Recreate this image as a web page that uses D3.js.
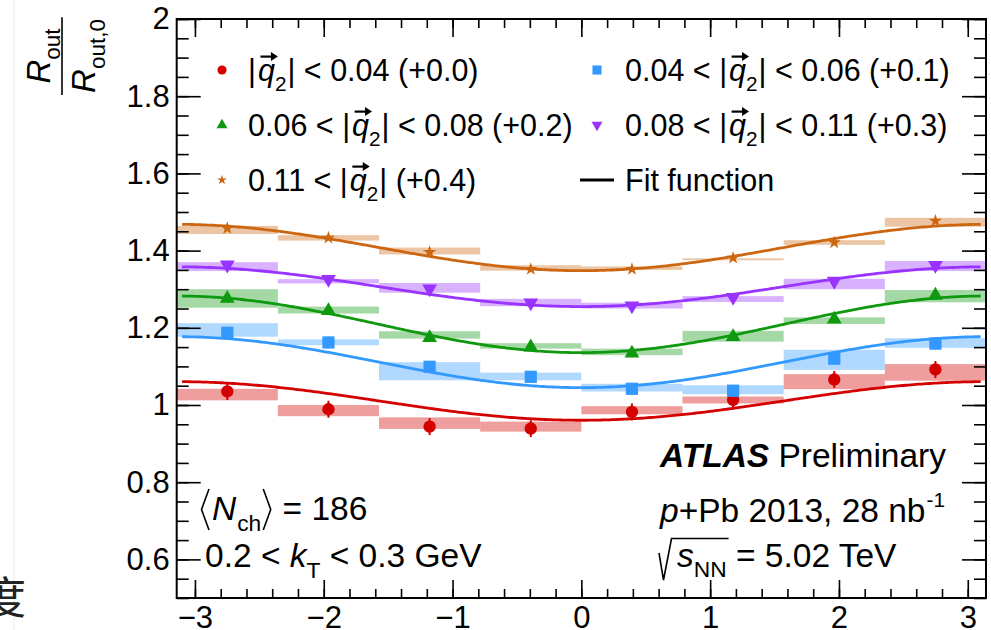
<!DOCTYPE html>
<html>
<head>
<meta charset="utf-8">
<script src="https://cdn.jsdelivr.net/npm/d3@7"></script>
<style>
  html, body { margin: 0; padding: 0; background: #fff; }
  svg { display: block; font-family: "Liberation Sans", Arial, Helvetica, sans-serif; }
  text { white-space: pre; }
</style>
</head>
<body>
<svg id="chart" width="991" height="630"></svg>
<script>
// ---- data -------------------------------------------------------------
// 8 bins in phi over [-pi, pi]
const nBins = 8;
const seriesNames = ["q0", "q1", "q2", "q3", "q4"];
const seriesOffsets = [0.0, 0.1, 0.2, 0.3, 0.4];
const seriesColors = ["#d40000", "#3399ff", "#0f990f", "#9933ff", "#cc6611"];
const seriesLabels = [
  { lo: null, hi: "0.04", off: "(+0.0)" },
  { lo: "0.04", hi: "0.06", off: "(+0.1)" },
  { lo: "0.06", hi: "0.08", off: "(+0.2)" },
  { lo: "0.08", hi: "0.11", off: "(+0.3)" },
  { lo: "0.11", hi: null, off: "(+0.4)" }
];

// R_out / R_out,0 per phi bin (before vertical offset)
const ratioQ0 = [1.035, 0.989, 0.944, 0.939, 0.982, 1.013, 1.066, 1.092];
const ratioQ1 = [1.087, 1.062, 0.999, 0.973, 0.942, 0.937, 1.020, 1.059];
const ratioQ2 = [1.076, 1.044, 0.974, 0.950, 0.934, 0.977, 1.022, 1.084];
const ratioQ3 = [1.063, 1.026, 1.001, 0.965, 0.957, 0.979, 1.021, 1.062];
const ratioQ4 = [1.058, 1.033, 0.996, 0.952, 0.952, 0.981, 1.021, 1.077];

// statistical uncertainty per series
const statErr = [0.022, 0.015, 0.010, 0.008, 0.006];

// systematic band edges (before vertical offset)
const sysLoQ0 = [1.012, 0.971, 0.938, 0.931, 0.976, 1.004, 1.041, 1.063];
const sysHiQ0 = [1.042, 1.000, 0.968, 0.957, 0.997, 1.022, 1.080, 1.106];
const sysLoQ1 = [1.077, 1.055, 0.964, 0.964, 0.935, 0.928, 0.991, 1.048];
const sysHiQ1 = [1.112, 1.070, 1.011, 0.984, 0.955, 0.951, 1.043, 1.073];
const sysLoQ2 = [1.052, 1.037, 0.972, 0.946, 0.929, 0.964, 1.010, 1.066];
const sysHiQ2 = [1.100, 1.055, 0.991, 0.960, 0.946, 0.992, 1.027, 1.098];
const sysLoQ3 = [1.047, 1.015, 0.991, 0.956, 0.950, 0.967, 1.000, 1.047];
const sysHiQ3 = [1.070, 1.026, 1.016, 0.975, 0.965, 0.982, 1.027, 1.073];
const sysLoQ4 = [1.043, 1.026, 0.990, 0.948, 0.950, 0.975, 1.015, 1.062];
const sysHiQ4 = [1.064, 1.040, 1.008, 0.962, 0.959, 0.980, 1.027, 1.085];

// fit function  R(phi) = base - amp * cos(phi)
const fitBase = [1.0105, 1.011, 1.009, 1.0065, 1.008];
const fitAmp  = [0.050, 0.066, 0.0734, 0.0515, 0.060];

const xTicks = [-3, -2, -1, 0, 1, 2, 3];
const yTicks = [0.6, 0.8, 1.0, 1.2, 1.4, 1.6, 1.8, 2.0];

const ratios = [ratioQ0, ratioQ1, ratioQ2, ratioQ3, ratioQ4];
const sysLo = [sysLoQ0, sysLoQ1, sysLoQ2, sysLoQ3, sysLoQ4];
const sysHi = [sysHiQ0, sysHiQ1, sysHiQ2, sysHiQ3, sysHiQ4];

// ---- layout -----------------------------------------------------------
const svg = d3.select("#chart");
const frame = { left: 176.7, right: 986, top: 19, bottom: 598 };
const x = d3.scaleLinear().domain([-Math.PI, Math.PI]).range([frame.left, frame.right]);
const y = d3.scaleLinear().domain([0.5, 2.0]).range([frame.bottom, frame.top]);

const binW = 2 * Math.PI / nBins;
const binLo = d3.range(nBins).map(i => -Math.PI + i * binW);
const binCenter = binLo.map(v => v + binW / 2);

// faint page edge and a stray glyph on the left margin
svg.append("line").attr("x1", 14).attr("x2", 14).attr("y1", 0).attr("y2", 630)
  .attr("stroke", "#efefef").attr("stroke-width", 1.5);
svg.append("text").attr("x", -18).attr("y", 614)
  .attr("font-family", "'Noto Sans CJK SC', sans-serif").attr("font-size", 44)
  .attr("fill", "#222").text("度");

// ---- systematic boxes ---------------------------------------------------
const plot = svg.append("g");
seriesNames.forEach((name, s) => {
  plot.append("g").attr("class", "sys-" + name)
    .selectAll("rect").data(d3.range(nBins)).join("rect")
    .attr("x", i => x(binLo[i]))
    .attr("width", i => x(binLo[i] + binW) - x(binLo[i]))
    .attr("y", i => y(sysHi[s][i] + seriesOffsets[s]))
    .attr("height", i => y(sysLo[s][i] + seriesOffsets[s]) - y(sysHi[s][i] + seriesOffsets[s]))
    .attr("fill", seriesColors[s]).attr("fill-opacity", 0.38);
});

// ---- fit curves ---------------------------------------------------------
const phiGrid = d3.range(-3.1, 3.1001, 0.02);
const line = d3.line().x(d => x(d[0])).y(d => y(d[1])).curve(d3.curveLinear);
seriesNames.forEach((name, s) => {
  const pts = phiGrid.map(p => [p, fitBase[s] - fitAmp[s] * Math.cos(p) + seriesOffsets[s]]);
  plot.append("path").datum(pts).attr("d", line)
    .attr("fill", "none").attr("stroke", seriesColors[s]).attr("stroke-width", 2.8);
});

// ---- markers ------------------------------------------------------------
const markerTypes = [
  { type: d3.symbolCircle, size: 120, rot: 0 },
  { type: d3.symbolSquare, size: 150, rot: 0 },
  { type: d3.symbolTriangle, size: 95, rot: 0 },
  { type: d3.symbolTriangle, size: 95, rot: 180 },
  { type: d3.symbolStar, size: 55, rot: 0 }
];
seriesNames.forEach((name, s) => {
  const g = plot.append("g").attr("class", "pts-" + name);
  d3.range(nBins).forEach(i => {
    const v = ratios[s][i] + seriesOffsets[s];
    g.append("line")
      .attr("x1", x(binCenter[i])).attr("x2", x(binCenter[i]))
      .attr("y1", y(v - statErr[s])).attr("y2", y(v + statErr[s]))
      .attr("stroke", seriesColors[s]).attr("stroke-width", 2);
    const m = markerTypes[s];
    g.append("path").attr("d", d3.symbol(m.type, m.size)())
      .attr("transform", `translate(${x(binCenter[i])},${y(v)}) rotate(${m.rot})`)
      .attr("fill", seriesColors[s]);
  });
});

// ---- frame and axes -----------------------------------------------------
const xMinor = d3.range(-3.0, 3.0001, 0.2).map(v => +v.toFixed(1));
const yMinor = d3.range(0.5, 2.0001, 0.05).map(v => +v.toFixed(2));
const tickStyle = g => { g.select(".domain").remove(); g.selectAll("line").attr("stroke", "#000").attr("stroke-width", 1.6); };

// bottom / top
svg.append("g").attr("transform", `translate(0,${frame.bottom})`)
  .call(d3.axisBottom(x).tickValues(xMinor).tickSize(-9).tickFormat("")).call(tickStyle);
svg.append("g").attr("transform", `translate(0,${frame.bottom})`)
  .call(d3.axisBottom(x).tickValues(xTicks).tickSize(-18).tickPadding(8)
    .tickFormat(d => d < 0 ? "\u2212" + Math.abs(d) : String(d)))
  .call(tickStyle)
  .call(g => g.selectAll("text").attr("font-size", 31).attr("fill", "#000")
    .attr("font-family", "'Liberation Sans', Arial, sans-serif").attr("dy", "0.71em"));
svg.append("g").attr("transform", `translate(0,${frame.top})`)
  .call(d3.axisTop(x).tickValues(xMinor).tickSize(-9).tickFormat("")).call(tickStyle);
svg.append("g").attr("transform", `translate(0,${frame.top})`)
  .call(d3.axisTop(x).tickValues(xTicks).tickSize(-18).tickFormat("")).call(tickStyle);

// left / right
svg.append("g").attr("transform", `translate(${frame.left},0)`)
  .call(d3.axisLeft(y).tickValues(yMinor).tickSize(-12).tickFormat("")).call(tickStyle);
svg.append("g").attr("transform", `translate(${frame.left},0)`)
  .call(d3.axisLeft(y).tickValues(yTicks).tickSize(-24).tickPadding(7)
    .tickFormat(d => String(+d.toFixed(1))))
  .call(tickStyle)
  .call(g => g.selectAll("text").attr("font-size", 31).attr("fill", "#000")
    .attr("font-family", "'Liberation Sans', Arial, sans-serif"));
svg.append("g").attr("transform", `translate(${frame.right},0)`)
  .call(d3.axisRight(y).tickValues(yMinor).tickSize(-12).tickFormat("")).call(tickStyle);
svg.append("g").attr("transform", `translate(${frame.right},0)`)
  .call(d3.axisRight(y).tickValues(yTicks).tickSize(-24).tickFormat("")).call(tickStyle);

svg.append("rect").attr("x", frame.left).attr("y", frame.top)
  .attr("width", frame.right - frame.left).attr("height", frame.bottom - frame.top)
  .attr("fill", "none").attr("stroke", "#000").attr("stroke-width", 2);

// ---- rich text helper ---------------------------------------------------
function rich(g, x0, y0, base, segs) {
  let cx = x0;
  segs.forEach(s => {
    cx += s.gap || 0;
    if (s.draw) { cx += s.draw(g, cx, y0); return; }
    const size = s.size || base;
    const t = g.append("text").attr("x", cx).attr("y", y0 + (s.dy || 0))
      .attr("font-size", size).attr("fill", "#000")
      .attr("font-style", s.italic ? "italic" : null)
      .attr("font-weight", s.bold ? "bold" : null)
      .text(s.t);
    const w = t.node().getComputedTextLength();
    if (s.after) s.after(g, cx, y0, w, size);
    cx += w;
  });
  return cx;
}

// vector arrow over a letter
function arrowOver(g, cx, y0, w, size) {
  const ay = y0 - size * 0.8;
  const x1 = cx + w * 0.15, x2 = cx + w + 3;
  g.append("line").attr("x1", x1).attr("x2", x2 - 4).attr("y1", ay).attr("y2", ay)
    .attr("stroke", "#000").attr("stroke-width", 2.2);
  g.append("path").attr("d", `M${x2},${ay} L${x2 - 7},${ay - 4.5} L${x2 - 7},${ay + 4.5} Z`).attr("fill", "#000");
}

function q2Segs(base) {
  return [
    { t: "|" },
    { t: "q", italic: true, gap: 2, after: arrowOver },
    { t: "2", size: base * 0.68, dy: base * 0.32 },
    { t: "|", gap: 1 }
  ];
}

function legendSegs(lab, base) {
  const segs = [];
  if (lab.lo) segs.push({ t: lab.lo + " < " });
  segs.push(...q2Segs(base));
  if (lab.hi) segs.push({ t: " < " + lab.hi + " " + lab.off });
  else segs.push({ t: " " + lab.off });
  return segs;
}

// ---- legend -------------------------------------------------------------
const leg = svg.append("g");
const legFont = 30.5;
const legPos = [
  { mx: 222, tx: 248, by: 81 },
  { mx: 597, tx: 625, by: 81 },
  { mx: 222, tx: 248, by: 136 },
  { mx: 597, tx: 625, by: 136 },
  { mx: 222, tx: 248, by: 191 }
];
seriesNames.forEach((name, s) => {
  const p = legPos[s];
  const m = markerTypes[s];
  leg.append("path").attr("d", d3.symbol(m.type, m.size * 0.55)())
    .attr("transform", `translate(${p.mx},${p.by - 11}) rotate(${m.rot})`)
    .attr("fill", seriesColors[s]);
  rich(leg, p.tx, p.by, legFont, legendSegs(seriesLabels[s], legFont));
});
leg.append("line").attr("x1", 580).attr("x2", 614).attr("y1", 180).attr("y2", 180)
  .attr("stroke", "#000").attr("stroke-width", 3);
rich(leg, 625, 191, legFont, [{ t: "Fit function" }]);

// ---- annotations --------------------------------------------------------
const ann = svg.append("g");
const annFont = 33.5;
rich(ann, 660, 467, annFont, [{ t: "ATLAS", bold: true, italic: true }, { t: " Preliminary" }]);
rich(ann, 660, 522, annFont, [
  { t: "p", italic: true }, { t: "+Pb 2013, 28 nb" },
  { t: "-1", size: annFont * 0.62, dy: -annFont * 0.45, gap: 1 }
]);
// sqrt(s_NN)
{
  const sx0 = 677;
  const end = rich(ann, sx0, 567, annFont, [
    { t: "s", italic: true },
    { t: "NN", size: annFont * 0.68, dy: annFont * 0.3 }
  ]);
  ann.append("path")
    .attr("d", `M659,553 L663.5,580 L671.5,538.5 H${end + 2}`)
    .attr("fill", "none").attr("stroke", "#000").attr("stroke-width", 1.6);
  rich(ann, end, 567, annFont, [{ t: " = 5.02 TeV" }]);
}

// <N_ch> = 186
function angle(dir) {
  return (g, cx, y0) => {
    const top = y0 - 31, bot = y0 + 10, mid = (top + bot) / 2;
    const w = 9;
    const d = dir < 0
      ? `M${cx + w},${top} L${cx + 1.5},${mid} L${cx + w},${bot}`
      : `M${cx + 1},${top} L${cx + w - 0.5},${mid} L${cx + 1},${bot}`;
    g.append("path").attr("d", d).attr("fill", "none").attr("stroke", "#000").attr("stroke-width", 1.6);
    return w + 2;
  };
}
rich(ann, 200, 520, annFont, [
  { draw: angle(-1) },
  { t: "N", italic: true, gap: 1 },
  { t: "ch", size: annFont * 0.68, dy: annFont * 0.32, gap: 1 },
  { draw: angle(1), gap: 1 },
  { t: " = 186" }
]);
rich(ann, 205, 567, annFont, [
  { t: "0.2 < " }, { t: "k", italic: true },
  { t: "T", size: annFont * 0.68, dy: annFont * 0.32 },
  { t: " < 0.3 GeV" }
]);

// ---- y-axis title: R_out / R_out,0 --------------------------------------
{
  const yt = svg.append("g").attr("transform", "translate(62,56) rotate(-90)");
  const tf = 33;
  const numSegs = [{ t: "R", italic: true }, { t: "out", size: tf * 0.68, dy: tf * 0.3 }];
  const denSegs = [{ t: "R", italic: true }, { t: "out,0", size: tf * 0.68, dy: tf * 0.3 }];
  const measure = segs => {
    const tmp = yt.append("g");
    const e = rich(tmp, 0, 0, tf, segs);
    tmp.remove(); return e;
  };
  const numW = measure(numSegs), denW = measure(denSegs);
  rich(yt, -numW / 2, -12, tf, numSegs);
  rich(yt, -denW / 2, 33, tf, denSegs);
  const lw = Math.max(numW, denW) / 2 + 2;
  yt.append("line").attr("x1", -lw).attr("x2", lw).attr("y1", 0).attr("y2", 0)
    .attr("stroke", "#000").attr("stroke-width", 1.6);
}
</script>
</body>
</html>
